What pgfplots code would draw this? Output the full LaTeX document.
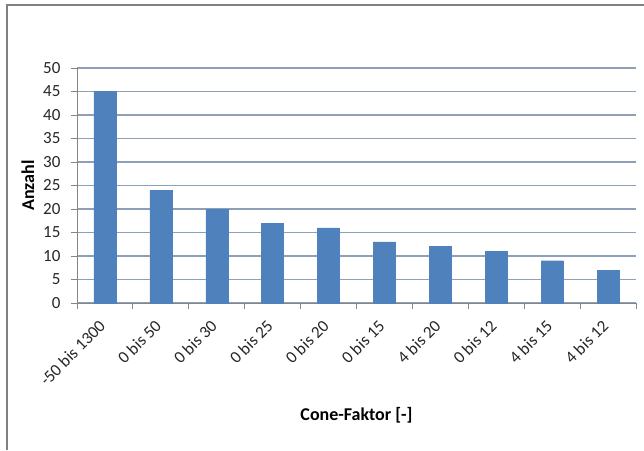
\documentclass[border=0pt]{standalone}
\usepackage{fontspec}
\setmainfont{Carlito}
\usepackage{pgfplots}
\pgfplotsset{compat=1.18}
\definecolor{barblue}{HTML}{4F81BD}
\definecolor{gridc}{HTML}{8EA0B8}
\definecolor{axisc}{HTML}{868686}
\definecolor{framec}{HTML}{808080}
\begin{document}
\begin{tikzpicture}
\path[use as bounding box] (0pt,0pt) rectangle (644pt,450pt);
\draw[framec, line width=1.5pt] (7pt,0pt) -- (7pt,445pt) -- (644pt,445pt);
\begin{axis}[
  at={(77pt,147pt)}, anchor=south west,
  scale only axis,
  width=559pt, height=235pt,
  xmin=0.5, xmax=10.5,
  ymin=0, ymax=50,
  ytick={0,5,...,50},
  xtick={1,...,10},
  xticklabels={-50 bis 1300,0 bis 50,0 bis 30,0 bis 25,0 bis 20,0 bis 15,4 bis 20,0 bis 12,4 bis 15,4 bis 12},
  minor xtick={0.5,1.5,...,10.5},
  major x tick style={draw=none},
  minor tick length=6pt,
  major tick length=6pt,
  tick align=outside,
  axis x line*=bottom, axis y line*=left,
  axis line style={axisc, line width=1pt, -},
  tick style={axisc, line width=1pt},
  ymajorgrids,
  grid style={gridc, line width=1.2pt},
  ybar, bar width=22pt,
  /pgf/number format/assume math mode=true,
  tick label style={font=\fontsize{17}{20}\selectfont, text=black!85},
  yticklabel style={xshift=-7pt},
  xticklabel style={xshift=-7pt, yshift=-5pt, rotate=45, anchor=north east},
  xlabel={\textbf{Cone-Faktor [-]}},
  ylabel={\textbf{Anzahl}},
  label style={font=\fontsize{18}{21}\selectfont},
  xlabel style={at={(axis description cs:0.5,-0.477)}, anchor=center},
  ylabel style={at={(axis description cs:-0.0877,0.5)}, anchor=center, rotate=0},
]
\addplot[fill=barblue, draw=barblue] coordinates {
  (1,45) (2,24) (3,20) (4,17) (5,16) (6,13) (7,12) (8,11) (9,9) (10,7)
};
\end{axis}
\end{tikzpicture}
\end{document}
